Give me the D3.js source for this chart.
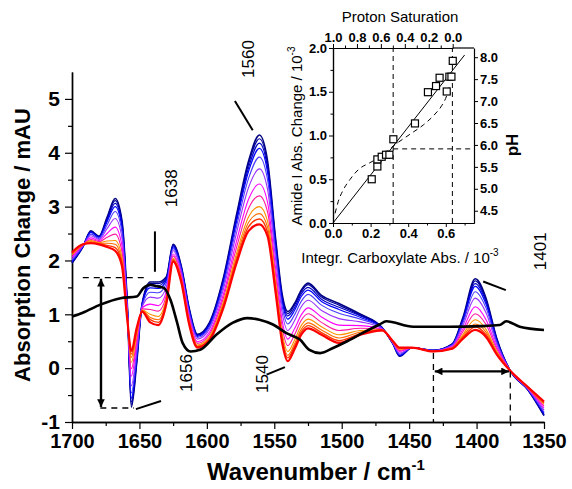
<!DOCTYPE html>
<html>
<head>
<meta charset="utf-8">
<script src="https://cdn.jsdelivr.net/npm/d3@7"></script>
<style>
  body { margin: 0; background: #fff; }
  text { font-family: "Liberation Sans", Arial, sans-serif; }
</style>
</head>
<body>
<script>
// wavenumber grid shared by the coloured spectra (cm-1)
var wavenumbers = [1700, 1692, 1686, 1680, 1674, 1668, 1663, 1659, 1656, 1652, 1648, 1642, 1636, 1630, 1625, 1619, 1613, 1607, 1598, 1588, 1578, 1569, 1561, 1555, 1549, 1544, 1540, 1535, 1530, 1525, 1515, 1502, 1486, 1470, 1462, 1457, 1448, 1432, 1418, 1410, 1401, 1393, 1385, 1375, 1362, 1350];

// spectra, high pH (navy) to low pH (red), mAU
var specNavy = [1.95, 2.25, 2.55, 2.45, 2.80, 3.15, 2.75, 1.20, -0.72, 0.10, 1.20, 1.60, 1.60, 1.70, 2.30, 1.90, 1.10, 0.63, 0.85, 1.65, 2.85, 3.85, 4.33, 3.85, 2.40, 1.35, 1.05, 1.20, 1.45, 1.58, 1.35, 1.20, 1.00, 0.75, 0.45, 0.22, 0.38, 0.33, 0.45, 0.95, 1.66, 1.30, 0.55, -0.05, -0.40, -0.88];
var specDarkBlue = [1.96, 2.25, 2.54, 2.44, 2.78, 3.11, 2.72, 1.19, -0.68, 0.13, 1.19, 1.57, 1.57, 1.68, 2.29, 1.89, 1.09, 0.62, 0.84, 1.63, 2.81, 3.80, 4.26, 3.79, 2.36, 1.31, 1.01, 1.17, 1.42, 1.55, 1.32, 1.17, 0.98, 0.75, 0.45, 0.23, 0.38, 0.33, 0.45, 0.93, 1.62, 1.27, 0.54, -0.05, -0.40, -0.87];
var specMidBlue = [1.97, 2.25, 2.53, 2.44, 2.75, 3.06, 2.67, 1.17, -0.63, 0.16, 1.19, 1.53, 1.53, 1.66, 2.27, 1.87, 1.07, 0.61, 0.82, 1.60, 2.77, 3.73, 4.18, 3.72, 2.31, 1.27, 0.97, 1.12, 1.38, 1.50, 1.28, 1.13, 0.97, 0.75, 0.46, 0.23, 0.38, 0.33, 0.44, 0.91, 1.57, 1.24, 0.52, -0.05, -0.40, -0.86];
var specBlue = [1.98, 2.26, 2.52, 2.43, 2.72, 3.00, 2.62, 1.16, -0.56, 0.20, 1.18, 1.49, 1.48, 1.63, 2.25, 1.86, 1.06, 0.59, 0.80, 1.57, 2.72, 3.66, 4.08, 3.64, 2.25, 1.22, 0.91, 1.07, 1.33, 1.45, 1.24, 1.09, 0.94, 0.74, 0.46, 0.24, 0.38, 0.33, 0.44, 0.89, 1.52, 1.19, 0.51, -0.05, -0.39, -0.84];
var specBlueViolet = [2.00, 2.26, 2.49, 2.41, 2.66, 2.91, 2.54, 1.13, -0.46, 0.26, 1.16, 1.41, 1.40, 1.58, 2.22, 1.83, 1.03, 0.57, 0.77, 1.51, 2.63, 3.53, 3.92, 3.50, 2.15, 1.13, 0.82, 0.99, 1.24, 1.37, 1.17, 1.02, 0.91, 0.74, 0.46, 0.26, 0.38, 0.33, 0.43, 0.85, 1.42, 1.12, 0.48, -0.05, -0.39, -0.82];
var specPurple = [2.03, 2.27, 2.46, 2.39, 2.59, 2.78, 2.43, 1.09, -0.33, 0.35, 1.14, 1.32, 1.30, 1.51, 2.18, 1.79, 0.99, 0.54, 0.73, 1.44, 2.51, 3.36, 3.70, 3.32, 2.02, 1.01, 0.70, 0.88, 1.14, 1.26, 1.07, 0.92, 0.86, 0.73, 0.47, 0.28, 0.38, 0.32, 0.42, 0.80, 1.30, 1.03, 0.44, -0.05, -0.38, -0.78];
var specMagenta = [2.06, 2.28, 2.42, 2.37, 2.50, 2.62, 2.28, 1.04, -0.15, 0.46, 1.12, 1.19, 1.16, 1.43, 2.12, 1.74, 0.94, 0.49, 0.67, 1.35, 2.36, 3.14, 3.42, 3.08, 1.85, 0.86, 0.54, 0.73, 0.99, 1.12, 0.95, 0.80, 0.79, 0.72, 0.48, 0.31, 0.38, 0.32, 0.40, 0.73, 1.14, 0.90, 0.39, -0.05, -0.37, -0.74];
var specPink = [2.09, 2.28, 2.39, 2.35, 2.43, 2.49, 2.17, 1.00, -0.01, 0.54, 1.10, 1.09, 1.06, 1.36, 2.08, 1.70, 0.90, 0.46, 0.63, 1.28, 2.24, 2.97, 3.20, 2.90, 1.72, 0.74, 0.42, 0.62, 0.89, 1.01, 0.85, 0.70, 0.74, 0.72, 0.48, 0.33, 0.38, 0.32, 0.39, 0.68, 1.01, 0.81, 0.35, -0.05, -0.37, -0.70];
var specOrange = [2.11, 2.29, 2.37, 2.33, 2.36, 2.37, 2.07, 0.96, 0.11, 0.62, 1.08, 1.00, 0.96, 1.30, 2.04, 1.66, 0.86, 0.43, 0.59, 1.21, 2.13, 2.81, 3.00, 2.73, 1.60, 0.63, 0.31, 0.52, 0.79, 0.91, 0.77, 0.62, 0.70, 0.71, 0.49, 0.35, 0.38, 0.31, 0.38, 0.63, 0.90, 0.72, 0.31, -0.05, -0.36, -0.67];
var specDarkOrange = [2.13, 2.29, 2.35, 2.32, 2.32, 2.30, 2.00, 0.94, 0.20, 0.67, 1.07, 0.94, 0.90, 1.26, 2.02, 1.64, 0.84, 0.41, 0.56, 1.17, 2.06, 2.71, 2.87, 2.62, 1.52, 0.56, 0.24, 0.45, 0.72, 0.84, 0.71, 0.56, 0.67, 0.71, 0.49, 0.36, 0.38, 0.31, 0.37, 0.60, 0.82, 0.67, 0.29, -0.05, -0.36, -0.65];
var specOrangeRed = [2.14, 2.30, 2.33, 2.31, 2.28, 2.24, 1.95, 0.92, 0.26, 0.71, 1.06, 0.90, 0.85, 1.23, 2.00, 1.62, 0.82, 0.40, 0.54, 1.13, 2.00, 2.63, 2.77, 2.53, 1.46, 0.50, 0.19, 0.40, 0.67, 0.79, 0.66, 0.51, 0.64, 0.70, 0.50, 0.37, 0.38, 0.31, 0.37, 0.57, 0.77, 0.62, 0.27, -0.05, -0.35, -0.64];
var specRed = [2.15, 2.30, 2.32, 2.30, 2.25, 2.18, 1.90, 0.90, 0.32, 0.75, 1.05, 0.85, 0.80, 1.20, 1.98, 1.60, 0.80, 0.38, 0.52, 1.10, 1.95, 2.55, 2.67, 2.45, 1.40, 0.45, 0.13, 0.35, 0.62, 0.74, 0.62, 0.47, 0.62, 0.70, 0.50, 0.38, 0.38, 0.31, 0.36, 0.55, 0.71, 0.58, 0.25, -0.05, -0.35, -0.62];

var seriesValues = [specNavy, specDarkBlue, specMidBlue, specBlue, specBlueViolet, specPurple, specMagenta, specPink, specOrange, specDarkOrange, specOrangeRed, specRed];
var seriesColors = ['#000080', '#00009c', '#0000c4', '#0000ff', '#4a3cff', '#9933ff', '#ff00ff', '#ff1aa0', '#ff9000', '#ff6a00', '#ff3800', '#ff0000'];
var seriesWidths = [1.6, 1.2, 1.2, 1.2, 1.1, 1.1, 1.1, 1.1, 1.1, 1.1, 1.4, 2.2];

// black difference spectrum, own grid
var blackWn = [1700, 1692, 1679, 1664, 1652, 1647, 1642, 1637, 1632, 1627, 1622, 1618, 1612, 1605, 1593, 1581, 1570, 1561, 1551, 1541, 1531, 1524, 1516, 1506, 1496, 1484, 1472, 1467, 1447, 1420, 1397, 1383, 1378, 1368, 1350];
var blackVals = [0.96, 1.03, 1.18, 1.30, 1.33, 1.49, 1.55, 1.52, 1.49, 1.27, 0.84, 0.47, 0.31, 0.34, 0.62, 0.84, 0.93, 0.90, 0.81, 0.65, 0.53, 0.34, 0.28, 0.38, 0.50, 0.66, 0.81, 0.87, 0.77, 0.77, 0.78, 0.80, 0.87, 0.77, 0.71];

var xMajorTicks = [1700, 1650, 1600, 1550, 1500, 1450, 1400, 1350];
var xMinorTicks = [1675, 1625, 1575, 1525, 1475, 1425, 1375];
var yMajorTicks = [-1, 0, 1, 2, 3, 4, 5];
var yMinorTicks = [-0.5, 0.5, 1.5, 2.5, 3.5, 4.5];

// inset: amide I change vs integrated carboxylate absorbance (10^-3)
var insetCarbox = [0.206, 0.236, 0.236, 0.259, 0.282, 0.300, 0.321, 0.436, 0.505, 0.548, 0.567, 0.605, 0.619, 0.630, 0.637];
var insetAmide = [0.50, 0.646, 0.727, 0.757, 0.78, 0.78, 0.957, 1.138, 1.495, 1.565, 1.66, 1.503, 1.672, 1.672, 1.853];
var fitCarbox = [0, 0.70];
var fitAmide = [0, 1.92];
var titrCarbox = [0.011, 0.028, 0.055, 0.09, 0.135, 0.197, 0.259, 0.321, 0.41, 0.48, 0.543, 0.578, 0.605, 0.622];
var titrAmide = [0.11, 0.246, 0.38, 0.496, 0.61, 0.69, 0.765, 0.88, 1.015, 1.12, 1.246, 1.34, 1.457, 1.59];
var insetXTicks = [0, 0.2, 0.4, 0.6];
var insetXMinor = [0.1, 0.3, 0.5, 0.7];
var insetYTicks = [0, 0.5, 1.0, 1.5, 2.0];
var insetYMinor = [0.25, 0.75, 1.25, 1.75];
var pHTicks = [4.5, 5.0, 5.5, 6.0, 6.5, 7.0, 7.5, 8.0];
var protonTicks = [1.0, 0.8, 0.6, 0.4, 0.2, 0.0];
var protonMinor = [0.9, 0.7, 0.5, 0.3, 0.1];

var fullWidth = 572;
var fullHeight = 489;

var svg = d3.select('body').append('svg')
  .attr('width', fullWidth)
  .attr('height', fullHeight);

var defs = svg.append('defs');
defs.append('marker')
  .attr('id', 'head')
  .attr('viewBox', '0 0 10 10')
  .attr('refX', 10).attr('refY', 5)
  .attr('markerWidth', 4.5).attr('markerHeight', 3.2)
  .attr('markerUnits', 'strokeWidth')
  .attr('orient', 'auto-start-reverse')
  .append('path')
    .attr('d', 'M0,0L10,5L0,10z')
    .attr('fill', '#000');

// ---------- main spectrum plot ----------
var x = d3.scaleLinear().domain([1700, 1350]).range([72, 544]);
var y = d3.scaleLinear().domain([-1, 5.5]).range([422, 72]);

var main = svg.append('g');

function styleAxis(g, fontSize) {
  g.select('.domain').attr('stroke-width', 1.4);
  g.selectAll('.tick line').attr('stroke-width', 1.2);
  g.selectAll('.tick text')
    .style('font-size', fontSize + 'px')
    .style('font-weight', 'bold')
    .attr('fill', '#000');
}

main.append('g')
  .attr('transform', 'translate(0,422)')
  .call(d3.axisBottom(x).tickValues(xMinorTicks).tickSize(4).tickSizeOuter(0).tickFormat(''))
  .call(styleAxis, 20);
main.append('g')
  .attr('transform', 'translate(0,422)')
  .call(d3.axisBottom(x).tickValues(xMajorTicks).tickSize(7).tickSizeOuter(0).tickPadding(5).tickFormat(d3.format('d')))
  .call(styleAxis, 20);

main.append('g')
  .attr('transform', 'translate(72,0)')
  .call(d3.axisLeft(y).tickValues(yMinorTicks).tickSize(4).tickSizeOuter(0).tickFormat(''))
  .call(styleAxis, 21);
main.append('g')
  .attr('transform', 'translate(72,0)')
  .call(d3.axisLeft(y).tickValues(yMajorTicks).tickSize(7).tickSizeOuter(0).tickPadding(5).tickFormat(function(d) { return String(d); }))
  .call(styleAxis, 21);

main.append('text')
  .attr('transform', 'translate(30,245)rotate(-90)')
  .style('text-anchor', 'middle')
  .style('font-size', '22px')
  .style('font-weight', 'bold')
  .text('Absorption Change / mAU');

var xTitle = main.append('text')
  .attr('x', 316).attr('y', 480)
  .style('text-anchor', 'middle')
  .style('font-size', '24px')
  .style('font-weight', 'bold');
xTitle.append('tspan').text('Wavenumber / cm');
xTitle.append('tspan').attr('dy', -10).style('font-size', '15px').text('-1');

var line = d3.line()
  .x(function(d) { return x(d[0]); })
  .y(function(d) { return y(d[1]); })
  .curve(d3.curveMonotoneX);

var curves = main.append('g').attr('fill', 'none').attr('stroke-linejoin', 'round');
seriesValues.forEach(function(vals, i) {
  curves.append('path')
    .datum(wavenumbers.map(function(w, j) { return [w, vals[j]]; }))
    .attr('d', line)
    .attr('stroke', seriesColors[i])
    .attr('stroke-width', seriesWidths[i]);
});

curves.append('path')
  .datum(blackWn.map(function(w, j) { return [w, blackVals[j]]; }))
  .attr('d', line)
  .attr('stroke', '#000')
  .attr('stroke-width', 2.6);

// annotations (data coordinates)
var labels = [
  {text: '1560', wn: 1565.3, v: 5.74},
  {text: '1638', wn: 1622.2, v: 3.34},
  {text: '1656', wn: 1611.0, v: -0.09},
  {text: '1540', wn: 1554.7, v: -0.11},
  {text: '1401', wn: 1348.6, v: 2.17}
];
main.selectAll('.ann').data(labels).enter().append('text')
  .attr('transform', function(d) { return 'translate(' + x(d.wn) + ',' + y(d.v) + ')rotate(-90)'; })
  .style('text-anchor', 'middle')
  .style('font-size', '17px')
  .text(function(d) { return d.text; });

var pointers = [
  [1579.2, 4.96, 1566.0, 4.42],
  [1638.5, 2.54, 1638.5, 1.79],
  [1652.6, -0.76, 1634.0, -0.61],
  [1555.7, -0.12, 1542.1, 0.02],
  [1395.1, 1.61, 1378.3, 1.45]
];
main.selectAll('.ptr').data(pointers).enter().append('line')
  .attr('x1', function(d) { return x(d[0]); })
  .attr('y1', function(d) { return y(d[1]); })
  .attr('x2', function(d) { return x(d[2]); })
  .attr('y2', function(d) { return y(d[3]); })
  .attr('stroke', '#000')
  .attr('stroke-width', 2);

// dashed guides and arrows
var dashes = [
  [1692, 1.68, 1645, 1.68],
  [1679, -0.74, 1654, -0.74],
  [1432, 0.28, 1432, -1],
  [1375, -0.06, 1375, -1]
];
main.selectAll('.dash').data(dashes).enter().append('line')
  .attr('x1', function(d) { return x(d[0]); })
  .attr('y1', function(d) { return y(d[1]); })
  .attr('x2', function(d) { return x(d[2]); })
  .attr('y2', function(d) { return y(d[3]); })
  .attr('stroke', '#000')
  .attr('stroke-width', 1.3)
  .attr('stroke-dasharray', '6,5');

var arrows = [
  [1678.5, 1.66, 1678.5, -0.72],
  [1431, -0.06, 1376, -0.06]
];
main.selectAll('.arr').data(arrows).enter().append('line')
  .attr('x1', function(d) { return x(d[0]); })
  .attr('y1', function(d) { return y(d[1]); })
  .attr('x2', function(d) { return x(d[2]); })
  .attr('y2', function(d) { return y(d[3]); })
  .attr('stroke', '#000')
  .attr('stroke-width', 2.4)
  .attr('marker-start', 'url(#head)')
  .attr('marker-end', 'url(#head)');

// ---------- inset ----------
var ix = d3.scaleLinear().domain([0, 0.75]).range([333, 474]);
var iy = d3.scaleLinear().domain([0, 2.0]).range([223, 48]);
var ipH = d3.scaleLinear().domain([4.22, 8.21]).range([223, 48]);
var iTop = d3.scaleLinear().domain([1, 0]).range([333, 452.7]);

var inset = svg.append('g');

function styleInset(g) {
  g.select('.domain').attr('stroke-width', 1.2);
  g.selectAll('.tick line').attr('stroke-width', 1);
  g.selectAll('.tick text')
    .style('font-size', '13px')
    .style('font-weight', 'bold')
    .attr('fill', '#000');
}

inset.append('g').attr('transform', 'translate(0,223)')
  .call(d3.axisBottom(ix).tickValues(insetXMinor).tickSize(2.5).tickSizeOuter(0).tickFormat(''))
  .call(styleInset);
inset.append('g').attr('transform', 'translate(0,223)')
  .call(d3.axisBottom(ix).tickValues(insetXTicks).tickSize(4).tickSizeOuter(0).tickPadding(2).tickFormat(d3.format('.1f')))
  .call(styleInset);
inset.append('g').attr('transform', 'translate(0,48)')
  .call(d3.axisTop(iTop).tickValues(protonMinor).tickSize(2.5).tickSizeOuter(0).tickFormat(''))
  .call(styleInset);
inset.append('g').attr('transform', 'translate(0,48)')
  .call(d3.axisTop(iTop).tickValues(protonTicks).tickSize(4).tickSizeOuter(0).tickPadding(2).tickFormat(d3.format('.1f')))
  .call(styleInset);
inset.append('line')
  .attr('x1', 452.7).attr('x2', 474).attr('y1', 48).attr('y2', 48)
  .attr('stroke', '#000').attr('stroke-width', 1.2);
inset.append('g').attr('transform', 'translate(333,0)')
  .call(d3.axisLeft(iy).tickValues(insetYMinor).tickSize(2.5).tickSizeOuter(0).tickFormat(''))
  .call(styleInset);
inset.append('g').attr('transform', 'translate(333,0)')
  .call(d3.axisLeft(iy).tickValues(insetYTicks).tickSize(4).tickSizeOuter(0).tickPadding(2).tickFormat(d3.format('.1f')))
  .call(styleInset);
inset.append('g').attr('transform', 'translate(474,0)')
  .call(d3.axisRight(ipH).tickValues(pHTicks).tickSize(4).tickSizeOuter(0).tickPadding(2).tickFormat(d3.format('.1f')))
  .call(styleInset);

inset.append('text')
  .attr('x', 400).attr('y', 22)
  .style('text-anchor', 'middle')
  .style('font-size', '15px')
  .text('Proton Saturation');

var ixTitle = inset.append('text')
  .attr('x', 400).attr('y', 263)
  .style('text-anchor', 'middle')
  .style('font-size', '15px');
ixTitle.append('tspan').text('Integr. Carboxylate Abs. / 10');
ixTitle.append('tspan').attr('dy', -7).style('font-size', '10px').text('-3');

var iyTitle = inset.append('text')
  .attr('transform', 'translate(302,136)rotate(-90)')
  .style('text-anchor', 'middle')
  .style('font-size', '15px');
iyTitle.append('tspan').text('Amide I Abs. Change / 10');
iyTitle.append('tspan').attr('dy', -7).style('font-size', '10px').text('-3');

inset.append('text')
  .attr('transform', 'translate(518,145)rotate(-90)')
  .style('text-anchor', 'middle')
  .style('font-size', '17px')
  .style('font-weight', 'bold')
  .text('pH');

// inset guides
var insetGuides = [
  [ix(0.32), iy(0), ix(0.32), iy(2.0)],
  [ix(0.635), iy(0), ix(0.635), iy(2.0)],
  [ix(0.32), ipH(5.91), ix(0.75), ipH(5.91)]
];
inset.selectAll('.guide').data(insetGuides).enter().append('line')
  .attr('x1', function(d) { return d[0]; })
  .attr('y1', function(d) { return d[1]; })
  .attr('x2', function(d) { return d[2]; })
  .attr('y2', function(d) { return d[3]; })
  .attr('stroke', '#000')
  .attr('stroke-width', 1)
  .attr('stroke-dasharray', '5,4');

var iline = d3.line()
  .x(function(d) { return ix(d[0]); })
  .y(function(d) { return iy(d[1]); });

inset.append('path')
  .datum(fitCarbox.map(function(c, j) { return [c, fitAmide[j]]; }))
  .attr('d', iline)
  .attr('fill', 'none')
  .attr('stroke', '#000')
  .attr('stroke-width', 1);

inset.append('path')
  .datum(titrCarbox.map(function(c, j) { return [c, titrAmide[j]]; }))
  .attr('d', iline.curve(d3.curveMonotoneX))
  .attr('fill', 'none')
  .attr('stroke', '#000')
  .attr('stroke-width', 1)
  .attr('stroke-dasharray', '5,4');

inset.selectAll('.pt').data(insetCarbox).enter().append('rect')
  .attr('x', function(d) { return ix(d) - 3.5; })
  .attr('y', function(d, i) { return iy(insetAmide[i]) - 3.5; })
  .attr('width', 7)
  .attr('height', 7)
  .attr('fill', '#fff')
  .attr('stroke', '#000')
  .attr('stroke-width', 1.2);
</script>
</body>
</html>
